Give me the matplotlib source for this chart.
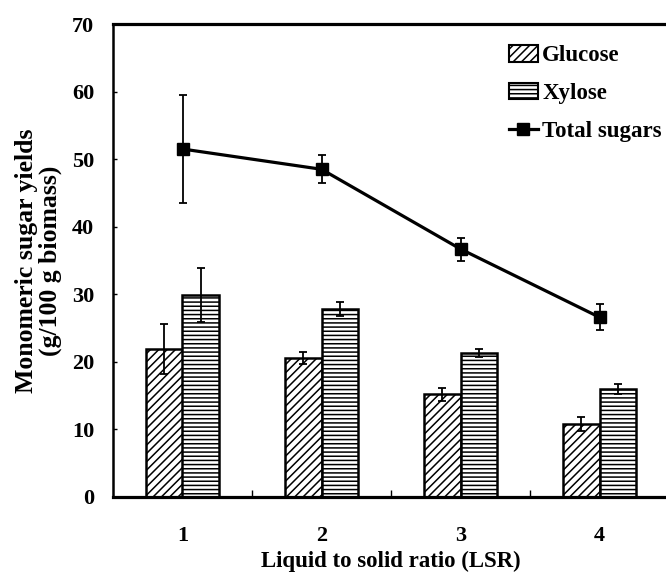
import matplotlib
matplotlib.use("Agg")
import matplotlib.pyplot as plt
from matplotlib.lines import Line2D
from matplotlib.patches import Patch
import numpy as np

plt.rcParams['font.family'] = ['Liberation Serif', 'DejaVu Serif']
plt.rcParams['font.weight'] = 'bold'
plt.rcParams['hatch.linewidth'] = 1.1

categories = [1, 2, 3, 4]
glucose = [21.9, 20.6, 15.2, 10.8]
glucose_err = [3.7, 0.9, 1.0, 1.0]
xylose = [29.9, 27.8, 21.3, 16.0]
xylose_err = [4.0, 1.0, 0.6, 0.7]
total = [51.5, 48.5, 36.7, 26.6]
total_err = [8.0, 2.1, 1.7, 1.9]

fig = plt.figure(figsize=(6.66, 5.76), dpi=100)
ax = fig.add_axes([113/666, 1-497/576, 556/666, (497-24)/576])

x = np.array(categories, dtype=float)
w = 0.26
ax.bar(x - w/2, glucose, w, color='white', edgecolor='black', hatch='////',
       linewidth=1.8, zorder=2)
ax.bar(x + w/2, xylose, w, color='white', edgecolor='black', hatch='----',
       linewidth=1.8, zorder=2)
ax.errorbar(x - w/2, glucose, yerr=glucose_err, fmt='none', ecolor='black',
            elinewidth=1.3, capsize=2.8, capthick=1.3, zorder=3)
ax.errorbar(x + w/2, xylose, yerr=xylose_err, fmt='none', ecolor='black',
            elinewidth=1.3, capsize=2.8, capthick=1.3, zorder=3)
ax.errorbar(x, total, yerr=total_err, color='black', linewidth=2.3, marker='s',
            markersize=9, elinewidth=1.3, capsize=2.8, capthick=1.3, zorder=4)

ax.set_xlim(0.5, 4.5)
ax.set_ylim(0, 70)
ax.set_xticks(categories)
ax.set_xticklabels([str(c) for c in categories])
ax.set_xticks([1.5, 2.5, 3.5], minor=True)
ax.set_yticks(np.arange(0, 71, 10))
ax.tick_params(axis='x', which='major', length=0, pad=21, labelsize=16)
ax.tick_params(axis='x', which='minor', direction='in', length=5, width=1)
ax.tick_params(axis='y', which='major', direction='in', length=3, width=1,
               pad=13.5, labelsize=16)
for lab in ax.get_xticklabels() + ax.get_yticklabels():
    lab.set_fontweight('bold')

ax.spines['right'].set_visible(False)
ax.spines['top'].set_linewidth(2.3)
ax.spines['left'].set_linewidth(1.8)
ax.spines['bottom'].set_linewidth(2.3)

ax.set_xlabel('Liquid to solid ratio (LSR)', fontsize=16.5, fontweight='bold')
ax.xaxis.set_label_coords(0.5, -0.114)
ax.set_ylabel('Monomeric sugar yields\n(g/100 g biomass)', fontsize=18.5,
              fontweight='bold', linespacing=1.0)
ax.yaxis.set_label_coords(-0.092, 0.5)

handles = [
    Patch(facecolor='white', edgecolor='black', hatch='////', linewidth=1.5),
    Patch(facecolor='white', edgecolor='black', hatch='----', linewidth=1.5),
    Line2D([], [], color='black', linewidth=2.3, marker='s', markersize=9),
]
labels = ['Glucose', 'Xylose', 'Total sugars']
leg = ax.legend(handles, labels, loc='upper left', bbox_to_anchor=(0.712, 0.956),
                frameon=False, fontsize=16.5, handlelength=1.25, handleheight=0.75,
                handletextpad=0.2, labelspacing=0.72, borderaxespad=0, borderpad=0)
for t in leg.get_texts():
    t.set_fontweight('bold')

fig.savefig('out.png', dpi=100)
